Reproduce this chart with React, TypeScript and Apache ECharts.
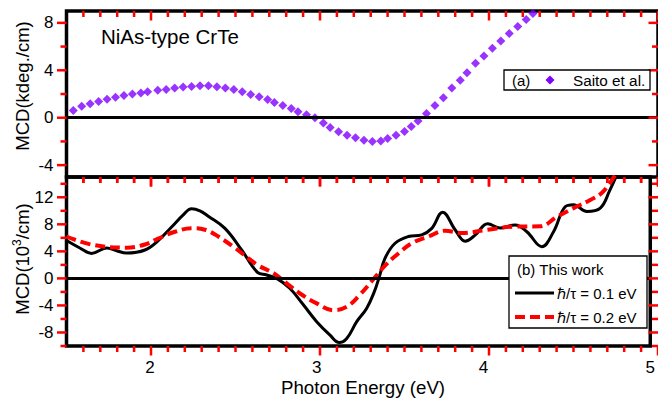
import React, { useEffect, useRef } from "react";
import * as echarts from "echarts";

// ---- data ----
const saitoEnergy = [1.54, 1.59, 1.64, 1.69, 1.74, 1.79, 1.84, 1.89, 1.94, 1.98, 2.04, 2.09, 2.14, 2.19, 2.24, 2.29, 2.34, 2.39, 2.44, 2.49, 2.54, 2.59, 2.64, 2.69, 2.73, 2.78, 2.83, 2.87, 2.92, 2.97, 3.02, 3.06, 3.11, 3.16, 3.21, 3.26, 3.31, 3.36, 3.40, 3.45, 3.50, 3.54, 3.58, 3.63, 3.68, 3.73, 3.78, 3.83, 3.87, 3.92, 3.97, 4.02, 4.07, 4.12, 4.17, 4.22, 4.26];
const saitoMCD = [0.61, 0.97, 1.17, 1.36, 1.56, 1.72, 1.87, 2.01, 2.09, 2.2, 2.31, 2.39, 2.51, 2.59, 2.64, 2.7, 2.7, 2.62, 2.51, 2.37, 2.18, 1.95, 1.76, 1.53, 1.28, 1.03, 0.78, 0.5, 0.25, 0.0, -0.45, -0.82, -1.18, -1.47, -1.7, -1.9, -2.01, -1.96, -1.76, -1.48, -1.17, -0.75, -0.28, 0.35, 1.03, 1.68, 2.51, 3.15, 3.8, 4.6, 5.2, 5.85, 6.47, 7.1, 7.7, 8.28, 8.78];

const work01Energy = [1.5, 1.58, 1.65, 1.74, 1.8, 1.86, 1.97, 2.05, 2.13, 2.2, 2.25, 2.3, 2.35, 2.45, 2.55, 2.645, 2.7, 2.76, 2.84, 2.92, 3.0, 3.08, 3.135, 3.18, 3.24, 3.3, 3.345, 3.375, 3.41, 3.47, 3.55, 3.63, 3.69, 3.755, 3.83, 3.89, 3.95, 4.025, 4.1, 4.19, 4.26, 4.35, 4.42, 4.49, 4.54, 4.62, 4.7, 4.755, 4.82];
const work01MCD = [5.6, 4.5, 3.7, 4.5, 4.1, 3.75, 4.2, 5.6, 7.6, 9.4, 10.3, 10.0, 9.2, 7.4, 4.2, 0.9, 0.5, 0.0, -1.5, -3.9, -6.4, -8.4, -9.5, -8.9, -6.4, -4.4, -2.0, 0.2, 3.0, 5.2, 6.2, 6.45, 7.4, 9.8, 7.2, 5.5, 6.4, 8.1, 7.45, 7.9, 6.9, 4.7, 6.9, 10.6, 10.9, 9.9, 10.4, 12.9, 16.5];

const work02Energy = [1.5, 1.66, 1.86, 1.975, 2.05, 2.15, 2.25, 2.33, 2.41, 2.51, 2.605, 2.65, 2.744, 2.82, 2.9, 3.0, 3.1, 3.18, 3.256, 3.335, 3.414, 3.49, 3.57, 3.67, 3.77, 3.87, 4.025, 4.18, 4.34, 4.44, 4.54, 4.64, 4.72, 4.81];
const work02MCD = [6.2, 4.95, 4.55, 5.05, 5.9, 6.9, 7.43, 7.2, 6.2, 4.5, 2.7, 1.9, 0.74, -0.74, -2.23, -3.7, -4.7, -4.2, -2.5, -0.25, 2.0, 3.7, 5.2, 6.2, 7.05, 6.7, 7.2, 7.65, 7.7, 9.1, 10.4, 11.6, 12.9, 16.2];

// ---- axis ranges and ticks ----
const xRange = [1.5, 5];
const topYRange = [-5, 9];
const botYRange = [-10, 15];
const xMajorTicks = [2, 3, 4, 5];
const xMinorTicks: number[] = [];
for (let v = 16; v <= 49; v++) if (v % 10 !== 0) xMinorTicks.push(v / 10);
const topYMajorTicks = [-4, 0, 4, 8];
const topYMinorTicks = [-2, 2, 6];
const botYMajorTicks = [-8, -4, 0, 4, 8, 12];
const botYMinorTicks = [-10, -6, -2, 2, 6, 10, 14];

const FONT = "'Liberation Sans', Arial, sans-serif";
const MAJOR_LEN = 9.5;
const MINOR_LEN = 6;
const TICK_COLOR = "#ff0000";

const GRID_LEFT = 66.5;
const GRID_WIDTH = 591.5;
const PANELS = [
  { top: 11, height: 166, yr: topYRange, yMaj: topYMajorTicks, yMin: topYMinorTicks },
  { top: 177, height: 169, yr: botYRange, yMaj: botYMajorTicks, yMin: botYMinorTicks },
];

function valueAxis(gridIndex: number, position: string, range: number[], step: number, showLabels: boolean) {
  return {
    type: "value",
    gridIndex,
    position,
    min: range[0],
    max: range[1],
    minInterval: step,
    maxInterval: step,
    splitLine: { show: false },
    axisLine: { show: false, onZero: false },
    axisTick: { show: false },
    axisLabel: showLabels
      ? {
          show: true,
          showMinLabel: false,
          showMaxLabel: range[1] % step === 0,
          color: "#000",
          fontSize: 17,
          fontFamily: FONT,
          margin: 13,
        }
      : { show: false },
  };
}

const zeroLine = {
  silent: true,
  symbol: "none",
  label: { show: false },
  lineStyle: { color: "#000", width: 3, type: "solid" },
  data: [{ yAxis: 0 }],
};

function buildTicks() {
  const out: any[] = [];
  const seg = (x1: number, y1: number, x2: number, y2: number) =>
    out.push({ type: "line", z: 120, shape: { x1, y1, x2, y2 }, style: { stroke: TICK_COLOR, lineWidth: 2.5 } });
  const sx = (x: number) => GRID_LEFT + ((x - xRange[0]) / (xRange[1] - xRange[0])) * GRID_WIDTH;
  PANELS.forEach((p) => {
    const sy = (y: number) => p.top + ((p.yr[1] - y) / (p.yr[1] - p.yr[0])) * p.height;
    const bottom = p.top + p.height;
    const xt = [...xMajorTicks.map((v) => [v, MAJOR_LEN]), ...xMinorTicks.map((v) => [v, MINOR_LEN])];
    xt.forEach(([v, len]) => {
      const x = sx(v);
      seg(x, bottom, x, bottom + len);
      seg(x, p.top, x, p.top + len);
    });
    const yt = [...p.yMaj.map((v) => [v, MAJOR_LEN]), ...p.yMin.map((v) => [v, MINOR_LEN])];
    yt.forEach(([v, len]) => {
      const y = sy(v);
      seg(GRID_LEFT, y, GRID_LEFT - len, y);
      seg(GRID_LEFT + GRID_WIDTH, y, GRID_LEFT + GRID_WIDTH - len, y);
    });
  });
  return out;
}

export default function App() {
  const ref = useRef<HTMLDivElement>(null);
  useEffect(() => {
    document.body.style.margin = "0";
    if (!ref.current) return;
    const chart = echarts.init(ref.current, undefined, { renderer: "svg" });
    const frame = { show: true, borderColor: "#000", borderWidth: 3.5, backgroundColor: "transparent" };

    const graphic: any[] = [
      { type: "text", left: 101, top: 26, style: { text: "NiAs-type CrTe", fontSize: 20.5, fontFamily: FONT, fill: "#000" } },
      {
        type: "text", x: 22, y: 86, rotation: Math.PI / 2,
        style: { text: "MCD(kdeg./cm)", fontSize: 18.5, fontFamily: FONT, fill: "#000", align: "center", verticalAlign: "middle" },
      },
      {
        type: "text", x: 22, y: 259, rotation: Math.PI / 2,
        style: {
          text: "{a|MCD(10}{s|3}{a|/cm)}", fontFamily: FONT, fill: "#000", align: "center", verticalAlign: "middle",
          rich: {
            a: { fontSize: 18.5, fontFamily: FONT, fill: "#000", lineHeight: 22 },
            s: { fontSize: 12, fontFamily: FONT, fill: "#000", verticalAlign: "top", lineHeight: 13 },
          },
        },
      },
      {
        type: "text", x: 363, y: 387,
        style: { text: "Photon Energy (eV)", fontSize: 18.7, fontFamily: FONT, fill: "#000", align: "center", verticalAlign: "middle" },
      },
      ...buildTicks(),
      { type: "rect", z: 130, shape: { x: 504, y: 70, width: 146, height: 20 }, style: { fill: "#fff", stroke: "#000", lineWidth: 1.3 } },
      { type: "text", z: 131, x: 512, y: 80.5, style: { text: "(a)", fontSize: 15, fontFamily: FONT, fill: "#000", verticalAlign: "middle" } },
      { type: "polygon", z: 131, shape: { points: [[550, 75.5], [554.5, 80], [550, 84.5], [545.5, 80]] }, style: { fill: "#7f00ff" } },
      { type: "text", z: 131, x: 573, y: 80.5, style: { text: "Saito et al.", fontSize: 15.3, fontFamily: FONT, fill: "#000", verticalAlign: "middle" } },
      { type: "rect", z: 130, shape: { x: 509, y: 256, width: 138, height: 72 }, style: { fill: "#fff", stroke: "#000", lineWidth: 1.3 } },
      { type: "text", z: 131, x: 517, y: 269.5, style: { text: "(b) This work", fontSize: 15, fontFamily: FONT, fill: "#000", verticalAlign: "middle" } },
      { type: "line", z: 131, shape: { x1: 515, y1: 293, x2: 554, y2: 293 }, style: { stroke: "#000", lineWidth: 3 } },
      { type: "text", z: 131, x: 557, y: 293.5, style: { text: "ℏ/τ = 0.1 eV", fontSize: 15, fontFamily: FONT, fill: "#000", verticalAlign: "middle" } },
      { type: "line", z: 131, shape: { x1: 515, y1: 317, x2: 554, y2: 317 }, style: { stroke: "#ff0000", lineWidth: 4, lineDash: [10, 5] } },
      { type: "text", z: 131, x: 557, y: 317.5, style: { text: "ℏ/τ = 0.2 eV", fontSize: 15, fontFamily: FONT, fill: "#000", verticalAlign: "middle" } },
    ];

    const option = {
      animation: false,
      backgroundColor: "#fff",
      grid: PANELS.map((p) => ({ left: GRID_LEFT, top: p.top, width: GRID_WIDTH, height: p.height, ...frame })),
      xAxis: [valueAxis(0, "bottom", xRange, 1, false), valueAxis(1, "bottom", xRange, 1, true)],
      yAxis: [valueAxis(0, "left", topYRange, 4, true), valueAxis(1, "left", botYRange, 4, true)],
      series: [
        {
          type: "scatter", name: "Saito et al.", xAxisIndex: 0, yAxisIndex: 0,
          symbol: "diamond", symbolSize: 9, itemStyle: { color: "#7f00ff" },
          data: saitoEnergy.map((x, i) => [x, saitoMCD[i]]),
          markLine: zeroLine, z: 3,
        },
        {
          type: "line", name: "ħ/τ = 0.1 eV", xAxisIndex: 1, yAxisIndex: 1,
          smooth: 0.4, symbol: "none", clip: true, lineStyle: { color: "#000", width: 3 },
          data: work01Energy.map((x, i) => [x, work01MCD[i]]),
          markLine: zeroLine, z: 2,
        },
        {
          type: "line", name: "ħ/τ = 0.2 eV", xAxisIndex: 1, yAxisIndex: 1,
          smooth: 0.4, symbol: "none", clip: true, lineStyle: { color: "#ff0000", width: 4, type: [10, 5] },
          data: work02Energy.map((x, i) => [x, work02MCD[i]]),
          z: 3,
        },
      ],
      graphic,
    };
    chart.setOption(option as any);
    return () => chart.dispose();
  }, []);
  return <div ref={ref} style={{ width: 658, height: 400 }} />;
}
